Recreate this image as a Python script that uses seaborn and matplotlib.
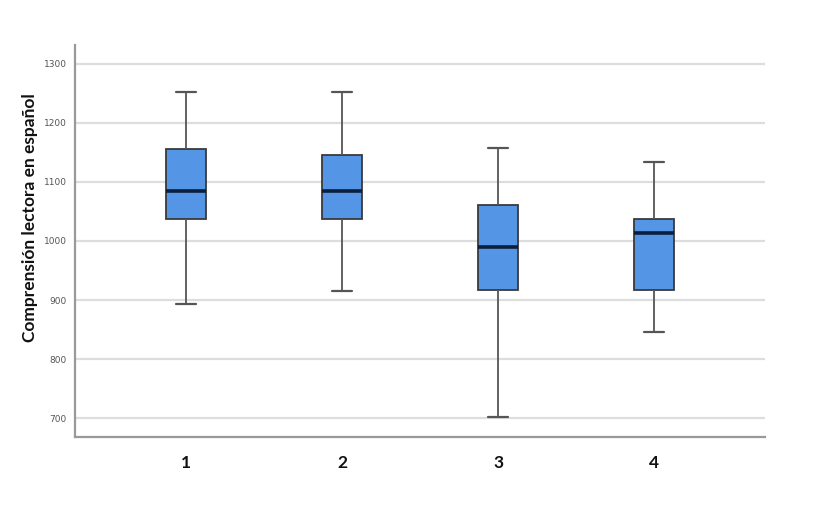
import matplotlib
matplotlib.use("Agg")
import matplotlib.pyplot as plt
import pandas as pd
import seaborn as sns

# five-number summaries (min, q1, median, q3, max)
groups = ["1", "2", "3", "4"]
g1 = [893, 1037, 1085, 1156, 1253]
g2 = [916, 1037, 1085, 1145, 1253]
g3 = [701, 917, 989, 1061, 1157]
g4 = [845, 917, 1013, 1037, 1133]

y_ticks = [700, 800, 900, 1000, 1100, 1200, 1300]
y_label = "Comprensión lectora en español"

df = pd.DataFrame({
    "grupo": [g for g, vals in zip(groups, [g1, g2, g3, g4]) for _ in vals],
    "valor": g1 + g2 + g3 + g4,
})

sns.set_theme(style="white")
plt.rcParams["font.family"] = ["DejaVu Sans"]

fig = plt.figure(figsize=(8.3, 5.09), dpi=100)
ax = fig.add_axes([0.0904, 0.1415, 0.8313, 0.7701])

sns.boxplot(
    data=df, x="grupo", y="valor", order=groups, ax=ax,
    color="#5595e6", saturation=1, width=0.26, whis=(0, 100),
    linewidth=1.3, linecolor="#4a4a4a",
    medianprops={"color": "#0b1f3d", "linewidth": 2.6},
    capprops={"color": "#555555", "linewidth": 1.6},
    whiskerprops={"color": "#555555", "linewidth": 1.3},
    boxprops={"edgecolor": "#3a3a3a"},
)

ax.set_xlim(-0.71, 3.71)
ax.set_ylim(668, 1332)
ax.set_yticks(y_ticks)
ax.set_yticklabels([str(t) for t in y_ticks], fontsize=6.5, color="#555555")
ax.set_xticks(range(len(groups)))
ax.set_xticklabels(groups, fontsize=12.5, fontweight="bold", color="#111111",
                   family=["Lato", "DejaVu Sans"])
ax.tick_params(axis="x", length=0, pad=13)
ax.tick_params(axis="y", length=0, pad=6)
ax.yaxis.grid(True, color="#dddddd", linewidth=1.6)
ax.set_axisbelow(True)

for side in ["top", "right"]:
    ax.spines[side].set_visible(False)
for side in ["left", "bottom"]:
    ax.spines[side].set_color("#999999")
    ax.spines[side].set_linewidth(1.6)

ax.set_xlabel("")
ax.set_ylabel(y_label, fontsize=12.5, fontweight="bold", color="#111111",
              family=["Lato", "DejaVu Sans"])
ax.yaxis.set_label_coords(-0.054, 0.559)

fig.savefig("out.png", dpi=100, facecolor="white")
